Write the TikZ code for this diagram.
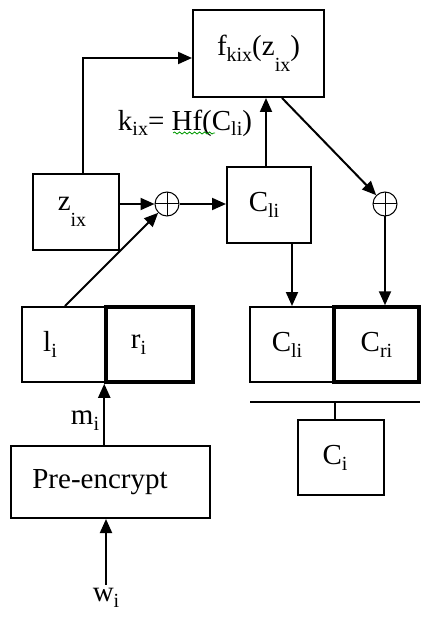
\documentclass[tikz,border=0pt]{standalone}
\usepackage{fontspec}
\setmainfont{Liberation Serif}
\usetikzlibrary{arrows.meta,decorations.pathmorphing}
\tikzset {>={Triangle[length=14pt,width=12pt]}}
\tikzset{
  blk/.style={draw,line width=2pt,minimum height=75pt,inner sep=0pt},
  xorc/.style={draw,circle,line width=1pt,minimum size=24pt,inner sep=0pt,
    path picture={\draw[line width=1pt] (path picture bounding box.north) -- (path picture bounding box.south)
      (path picture bounding box.west) -- (path picture bounding box.east);}},
  conn/.style={line width=2pt,->}
}
\newcommand\lsub[1]{\raisebox{-.55em}{\fontsize{20}{20}\selectfont #1}}
\newcommand\ssub[1]{\raisebox{-.2em}{\fontsize{20}{20}\selectfont #1}}
% shift box text to the left
\newcommand\lft[1]{\hspace*{#1}}

\begin{document}
\begin{tikzpicture}[x=1pt,y=-1pt,font=\fontsize{29}{33}\selectfont]
\useasboundingbox (0,0) rectangle (422,617);

\node[blk,minimum width=131pt,minimum height=87pt] (fbox) at (258.5,53.5) {f\ssub{kix}(z\lsub{ix})};
\node[blk,minimum width=86pt,minimum height=76pt] (zbox) at (76,212) {z\lsub{ix}\lft{8pt}};
\node[xorc] (xl) at (167,204) {};
\node[xorc] (xr) at (385,204) {};
\node[blk,minimum width=84pt] (clup) at (269,205) {C\ssub{li}\lft{10pt}};

\node[blk,minimum width=84pt] (lbox) at (64,344.5) {l\ssub{i}\lft{28pt}};
\node[blk,minimum width=87pt,line width=3.5pt] (rbox) at (149.5,344.5) {r\ssub{i}\lft{22pt}};
\node[blk,minimum width=199pt,minimum height=72pt] (pre) at (110.5,482) {Pre-encrypt\lft{21pt}};

\node[blk,minimum width=84pt] (clbox) at (292,344.5) {C\ssub{li}\lft{10pt}};
\node[blk,minimum width=85pt,line width=3.5pt] (crbox) at (376.5,344.5) {C\ssub{ri}};
\node[blk,minimum width=86pt] (cibox) at (341,457.5) {C\ssub{i}\lft{12pt}};

\node (klab) at (185,123) {k\ssub{ix}= Hf(C\ssub{li})};
\node (mlab) at (85,421) {m\ssub{i}};
\node (wlab) at (106,598) {w\ssub{i}};
\draw[green!60!black,line width=.8pt,decorate,decoration={snake,amplitude=1pt,segment length=5pt}]
  (173,133) -- (215,133);

\draw[conn] (zbox.north -| 83,0) |- (fbox.west |- 0,58);
\draw[conn] (zbox.east |- xl) -- (xl.west);
\draw[conn] (xl.east) -- (clup.west |- xl);
\draw[conn] (lbox.north -| 65,0) -- (xl.south west);
\draw[conn] (clup.north -| 266,0) -- (fbox.south -| 266,0);
\draw[conn] (fbox.south -| 282,0) -- (xr.north west);
\draw[conn] (clup.south -| clbox.north) -- (clbox.north);
\draw[conn] (xr.south) -- (crbox.north -| xr);
\draw[conn] (pre.north -| rbox.south west) -- (rbox.south west);
\draw[conn] (wlab.north) -- (pre.south -| wlab);

\coordinate (busl) at (250,402);
\coordinate (busr) at (420,402);
\draw[line width=2pt] (busl) -- (busr);
\draw[line width=2pt] (cibox.north -| 335,0) -- (335,402);
\end{tikzpicture}
\end{document}
